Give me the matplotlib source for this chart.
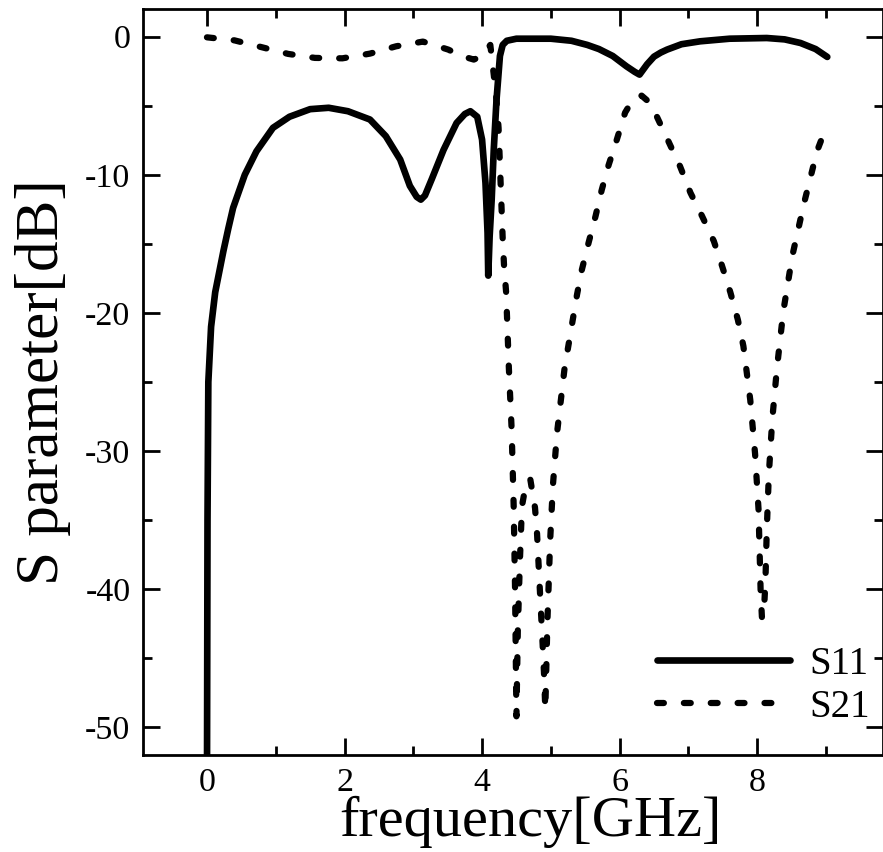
import matplotlib
matplotlib.use('Agg')
import matplotlib.pyplot as plt
from matplotlib.ticker import MultipleLocator

plt.rcParams['font.family'] = ['Liberation Serif', 'DejaVu Serif']
plt.rcParams['axes.unicode_minus'] = False

# S11 (GHz, dB)
s11_freq = [0.0, 0.008, 0.02, 0.06, 0.12, 0.24, 0.31, 0.38, 0.55, 0.72, 0.96, 1.2, 1.5,
            1.77, 2.05, 2.37, 2.6, 2.81, 2.95, 3.05, 3.11, 3.17, 3.27, 3.44, 3.63, 3.75, 3.83,
            3.93, 4.0, 4.05, 4.08, 4.09, 4.11, 4.14, 4.17, 4.21, 4.26, 4.3, 4.36, 4.5,
            5.0, 5.3, 5.53, 5.7, 5.9, 6.1, 6.22, 6.29, 6.4, 6.5, 6.6, 6.69, 6.9, 7.17, 7.6,
            8.14, 8.4, 8.63, 8.85, 9.02]
s11_db = [-55, -35, -25, -21, -18.5, -15.5, -13.9, -12.4, -10.0, -8.3, -6.6, -5.8, -5.25,
          -5.15, -5.4, -6.0, -7.2, -8.9, -10.8, -11.6, -11.8, -11.5, -10.3, -8.2, -6.25, -5.6, -5.4,
          -5.8, -7.45, -10.6, -14.2, -17.3, -14.5, -11.8, -8.2, -4.6, -1.4, -0.6, -0.3, -0.15,
          -0.15, -0.3, -0.6, -0.9, -1.4, -2.15, -2.55, -2.75, -2.0, -1.45, -1.15, -0.94, -0.55, -0.34, -0.15,
          -0.1, -0.2, -0.46, -0.9, -1.47]

# S21
s21_freq = [0.0, 0.4, 0.8, 1.18, 1.57, 1.97, 2.37, 2.75, 3.14, 3.51, 3.7, 3.88,
            4.0, 4.12, 4.17, 4.21, 4.24, 4.27, 4.3, 4.32, 4.35, 4.39, 4.43, 4.46,
            4.48, 4.5, 4.52, 4.55, 4.58, 4.63, 4.7, 4.77, 4.8, 4.84, 4.88, 4.9,
            4.92, 4.95, 4.99, 5.03, 5.09, 5.2, 5.38, 5.45, 5.55, 5.65, 5.74, 5.84,
            5.96, 6.08, 6.2, 6.32, 6.42, 6.54, 6.71, 6.88, 7.03, 7.2, 7.37, 7.49,
            7.61, 7.72, 7.8, 7.9, 7.97, 8.02, 8.05, 8.07, 8.1, 8.12, 8.14, 8.17,
            8.22, 8.29, 8.38, 8.51, 8.68, 8.87, 9.0]
s21_db = [-0.05, -0.27, -0.77, -1.25, -1.54, -1.57, -1.23, -0.7, -0.36, -0.94, -1.4, -1.66,
          -1.4, -0.6, -2.75, -4.6, -6.6, -10.6, -14.6, -16.6, -18.5, -24, -28.4, -34,
          -40, -49.2, -43, -38, -34, -32.6, -32.0, -34.1, -36, -40, -43.9, -46,
          -48.7, -42.4, -36.5, -32.5, -28.7, -24, -18.7, -16.9, -14.9, -13.0, -11.1, -9.3,
          -7.45, -5.5, -4.5, -4.27, -4.7, -5.77, -7.58, -9.4, -11.3, -13.0, -14.8, -16.6,
          -18.5, -20.5, -22.4, -26.3, -30.2, -34.2, -40.0, -42.1, -41.5, -39.5, -35.7, -31.7,
          -27.7, -23.9, -19.9, -15.9, -12.1, -8.3, -6.6]

fig = plt.figure(figsize=(8.83, 8.52), dpi=100)
ax = fig.add_axes([143 / 883, 97 / 852, 740 / 883, 746 / 852])

ax.plot(s11_freq, s11_db, color='black', lw=4.8, solid_capstyle='round',
        solid_joinstyle='round', label='S11')
ax.plot(s21_freq, s21_db, color='black', lw=4.5, linestyle=(0, (1.1, 3.2)),
        dash_capstyle='round', label='S21')

ax.set_xlim(-0.93, 9.83)
ax.set_ylim(-52, 2)
ax.xaxis.set_major_locator(MultipleLocator(2))
ax.xaxis.set_minor_locator(MultipleLocator(1))
ax.yaxis.set_major_locator(MultipleLocator(10))
ax.yaxis.set_minor_locator(MultipleLocator(5))
ax.tick_params(which='both', direction='in', top=True, right=True, width=2,
               labelsize=24.5)
ax.tick_params(which='major', length=12, pad=9)
ax.tick_params(which='minor', length=6.5)
for sp in ax.spines.values():
    sp.set_linewidth(2)

ax.set_xlabel('frequency[GHz]', fontsize=42)
ax.xaxis.set_label_coords(0.524, -0.055)
ax.set_ylabel('S parameter[dB]', fontsize=44, labelpad=10)

ax.legend(loc='center left', bbox_to_anchor=(0.695, 0.0925), frameon=False,
          fontsize=28, handlelength=3.4, handletextpad=0.5, labelspacing=0.15,
          borderpad=0, borderaxespad=0)

fig.savefig('out.png', dpi=100)
